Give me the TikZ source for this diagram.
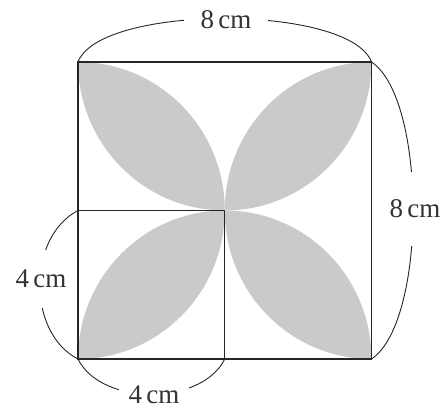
\documentclass[tikz,border=0pt]{standalone}
\usepackage{fontspec}
\setmainfont{Liberation Serif}
\begin{document}
\begin{tikzpicture}[x=1pt,y=1pt,
  petal/.style={fill=petalgray, draw=none},
  outer/.style={line width=1.6pt, draw=black!85},
  inner/.style={line width=1.1pt, draw=black!85},
  dimcurve/.style={line width=0.9pt, draw=black!85},
  dimlabel/.style={fill=white, text=black!80, font=\fontsize{27}{30}\selectfont, inner sep=0pt}
]
\definecolor{petalgray}{RGB}{201,202,202}
\useasboundingbox (0,0) rectangle (445,409);
\def\rx{146.75}
\def\ry{148.5}
% corners
\coordinate (BL) at (78,50);
\coordinate (BR) at (371.5,50);
\coordinate (TL) at (78,347);
\coordinate (TR) at (371.5,347);
\coordinate (C) at (224.75,198.5);
\coordinate (ML) at (78,198.5);
\coordinate (MB) at (224.75,50);
% petals
\fill[petal] (BL) arc[start angle=-90,end angle=0,x radius=\rx,y radius=\ry]
  arc[start angle=90,end angle=180,x radius=\rx,y radius=\ry] -- cycle;
\fill[petal] (TL) arc[start angle=90,end angle=0,x radius=\rx,y radius=\ry]
  arc[start angle=270,end angle=180,x radius=\rx,y radius=\ry] -- cycle;
\fill[petal] (TR) arc[start angle=90,end angle=180,x radius=\rx,y radius=\ry]
  arc[start angle=270,end angle=360,x radius=\rx,y radius=\ry] -- cycle;
\fill[petal] (BR) arc[start angle=270,end angle=180,x radius=\rx,y radius=\ry]
  arc[start angle=90,end angle=0,x radius=\rx,y radius=\ry] -- cycle;
% squares
\draw[inner] (ML) -- (C) -- (MB);
\draw[outer] (BL) rectangle (TR);
% dimension curves
\draw[dimcurve] (TL) .. controls (100,405) and (349.5,405) .. (TR);
\draw[dimcurve] (TR) .. controls (427,310) and (427,87) .. (BR);
\draw[dimcurve] (ML) .. controls (27,172) and (27,76) .. (BL);
\draw[dimcurve] (BL) .. controls (101,3) and (201.75,3) .. (MB);
% labels
\node[dimlabel, inner xsep=17pt, inner ysep=4pt] (ltop) at (226,389) {8\,cm};
\node[dimlabel, inner xsep=1pt, inner ysep=28pt] (lright) at (415,200) {8\,cm};
\node[dimlabel, inner xsep=1pt, inner ysep=20pt] (lleft) at (41,130) {4\,cm};
\node[dimlabel, inner xsep=10pt, inner ysep=3pt] (lbot) at (154,14) {4\,cm};
\end{tikzpicture}
\end{document}
